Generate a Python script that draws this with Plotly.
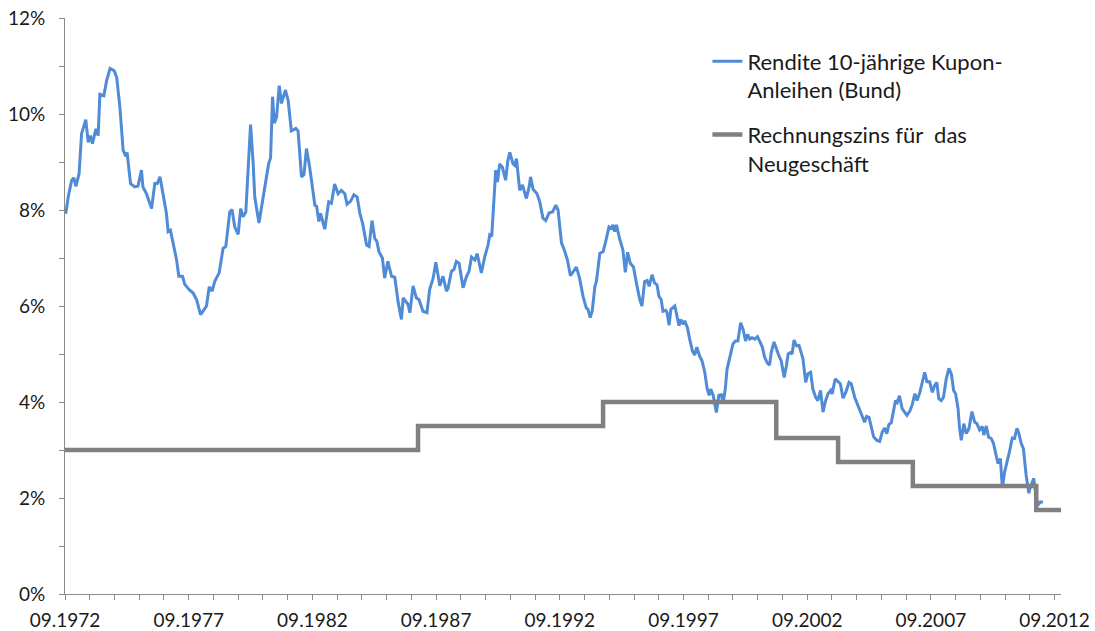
import plotly.graph_objects as go

# ---- data ----
bund_dates = [
    1972.70, 1972.80, 1972.94, 1973.03, 1973.11, 1973.24, 1973.34, 1973.51, 1973.61, 1973.70,
    1973.78, 1973.92, 1974.01, 1974.08, 1974.24, 1974.35, 1974.49, 1974.66, 1974.76, 1974.89,
    1975.02, 1975.13, 1975.18, 1975.32, 1975.49, 1975.62, 1975.76, 1975.82, 1975.96, 1976.17,
    1976.30, 1976.40, 1976.51, 1976.64, 1976.77, 1976.84, 1976.93, 1977.04, 1977.18, 1977.27,
    1977.42, 1977.51, 1977.69, 1977.85, 1977.99, 1978.15, 1978.32, 1978.39, 1978.50, 1978.62,
    1978.72, 1978.90, 1979.06, 1979.17, 1979.33, 1979.42, 1979.53, 1979.67, 1979.77, 1979.87,
    1979.98, 1980.17, 1980.27, 1980.34, 1980.51, 1980.67, 1980.78, 1980.90, 1980.98, 1981.06,
    1981.13, 1981.22, 1981.33, 1981.42, 1981.58, 1981.69, 1981.82, 1982.00, 1982.09, 1982.23,
    1982.33, 1982.43, 1982.56, 1982.77, 1982.84, 1982.93, 1983.00, 1983.17, 1983.33, 1983.44,
    1983.57, 1983.71, 1983.84, 1983.98, 1984.07, 1984.21, 1984.35, 1984.48, 1984.59, 1984.70,
    1984.86, 1984.96, 1985.08, 1985.19, 1985.28, 1985.36, 1985.50, 1985.59, 1985.72, 1985.87,
    1986.00, 1986.14, 1986.27, 1986.34, 1986.54, 1986.61, 1986.74, 1986.87, 1986.98, 1987.14,
    1987.30, 1987.41, 1987.55, 1987.66, 1987.82, 1987.95, 1988.09, 1988.15, 1988.29, 1988.39,
    1988.49, 1988.60, 1988.76, 1988.90, 1989.00, 1989.10, 1989.24, 1989.33, 1989.50, 1989.64,
    1989.77, 1989.84, 1989.92, 1990.00, 1990.08, 1990.15, 1990.24, 1990.35, 1990.48, 1990.57,
    1990.65, 1990.78, 1990.85, 1990.92, 1991.05, 1991.16, 1991.32, 1991.43, 1991.49, 1991.59,
    1991.75, 1991.86, 1991.99, 1992.10, 1992.24, 1992.38, 1992.51, 1992.60, 1992.74, 1992.83,
    1992.98, 1993.10, 1993.20, 1993.34, 1993.47, 1993.61, 1993.74, 1993.81, 1993.90, 1993.98,
    1994.09, 1994.15, 1994.29, 1994.42, 1994.51, 1994.66, 1994.76, 1994.82, 1994.89, 1994.96,
    1995.09, 1995.22, 1995.32, 1995.41, 1995.52, 1995.65, 1995.76, 1995.90, 1995.99, 1996.10,
    1996.20, 1996.28, 1996.40, 1996.50, 1996.60, 1996.68, 1996.77, 1996.84, 1996.95, 1997.01,
    1997.09, 1997.16, 1997.32, 1997.39, 1997.49, 1997.56, 1997.65, 1997.72, 1997.83, 1997.92,
    1998.03, 1998.12, 1998.21, 1998.32, 1998.42, 1998.53, 1998.63, 1998.71, 1998.77, 1998.87,
    1998.93, 1999.00, 1999.10, 1999.20, 1999.27, 1999.36, 1999.43, 1999.54, 1999.67, 1999.77,
    1999.87, 1999.98, 2000.08, 2000.18, 2000.26, 2000.35, 2000.44, 2000.55, 2000.66, 2000.75,
    2000.86, 2000.95, 2001.06, 2001.15, 2001.22, 2001.33, 2001.42, 2001.53, 2001.62, 2001.74,
    2001.83, 2001.90, 2001.99, 2002.06, 2002.14, 2002.24, 2002.34, 2002.44, 2002.50, 2002.61,
    2002.70, 2002.81, 2002.90, 2003.01, 2003.10, 2003.21, 2003.31, 2003.40, 2003.51, 2003.62,
    2003.68, 2003.80, 2003.92, 2004.01, 2004.12, 2004.23, 2004.36, 2004.45, 2004.59, 2004.72,
    2004.86, 2004.99, 2005.07, 2005.17, 2005.27, 2005.36, 2005.49, 2005.60, 2005.71, 2005.80,
    2005.89, 2005.97, 2006.07, 2006.16, 2006.24, 2006.31, 2006.40, 2006.51, 2006.60, 2006.70,
    2006.82, 2006.92, 2007.02, 2007.11, 2007.22, 2007.33, 2007.42, 2007.51, 2007.62, 2007.73,
    2007.82, 2007.91, 2007.99, 2008.09, 2008.18, 2008.29, 2008.40, 2008.50, 2008.59, 2008.67,
    2008.77, 2008.83, 2008.90, 2009.00, 2009.10, 2009.21, 2009.33, 2009.44, 2009.53, 2009.64,
    2009.75, 2009.81, 2009.91, 2010.00, 2010.11, 2010.20, 2010.32, 2010.38, 2010.48, 2010.56,
    2010.65, 2010.74, 2010.85, 2010.96, 2011.05, 2011.15, 2011.23, 2011.32, 2011.41, 2011.52,
    2011.63, 2011.70, 2011.83, 2011.91, 2012.00, 2012.10, 2012.20,
]

bund_yield = [
    7.92, 8.27, 8.62, 8.67, 8.49, 8.76, 9.59, 9.88, 9.41, 9.55,
    9.38, 9.69, 9.55, 10.41, 10.38, 10.69, 10.95, 10.90, 10.76, 10.14,
    9.24, 9.12, 9.20, 8.55, 8.48, 8.50, 8.83, 8.48, 8.34, 8.03,
    8.55, 8.55, 8.69, 8.27, 7.93, 7.55, 7.58, 7.31, 6.96, 6.62,
    6.62, 6.45, 6.34, 6.27, 6.13, 5.82, 5.93, 6.00, 6.40, 6.31,
    6.51, 6.69, 7.20, 7.24, 7.96, 8.01, 7.65, 7.49, 8.03, 7.86,
    7.96, 9.78, 9.03, 8.27, 7.73, 8.27, 8.55, 8.96, 9.09, 10.36,
    9.81, 9.93, 10.59, 10.22, 10.50, 10.28, 9.65, 9.70, 9.65, 8.69,
    8.74, 9.28, 8.89, 8.10, 8.08, 7.76, 7.93, 7.60, 8.17, 8.14,
    8.54, 8.34, 8.41, 8.34, 8.12, 8.18, 8.32, 8.27, 7.93, 7.72,
    7.27, 7.24, 7.78, 7.41, 7.34, 7.13, 7.00, 6.58, 6.93, 6.62,
    6.60, 6.07, 5.72, 6.17, 6.03, 5.86, 6.42, 6.17, 6.13, 5.89,
    5.86, 6.34, 6.58, 6.91, 6.42, 6.62, 6.31, 6.36, 6.72, 6.76,
    6.93, 6.89, 6.38, 6.62, 6.72, 7.02, 6.96, 7.09, 6.69, 7.03,
    7.27, 7.48, 7.45, 8.07, 8.83, 8.58, 8.96, 8.89, 8.62, 9.03,
    9.20, 8.96, 8.93, 9.07, 8.41, 8.52, 8.24, 8.48, 8.69, 8.43,
    8.34, 8.17, 7.83, 7.78, 7.94, 7.96, 8.10, 8.00, 7.31, 7.20,
    6.96, 6.63, 6.70, 6.81, 6.58, 6.20, 5.96, 5.93, 5.76, 5.89,
    6.41, 6.51, 7.10, 7.13, 7.31, 7.65, 7.62, 7.69, 7.55, 7.69,
    7.40, 7.17, 6.70, 7.12, 6.89, 6.81, 6.50, 6.14, 6.00, 6.51,
    6.53, 6.41, 6.65, 6.48, 6.44, 6.20, 6.13, 5.89, 5.91, 5.86,
    5.60, 5.93, 6.00, 5.83, 5.59, 5.72, 5.62, 5.69, 5.55, 5.31,
    5.07, 4.98, 5.14, 4.96, 4.86, 4.62, 4.27, 4.14, 4.27, 4.14,
    4.00, 3.78, 4.14, 4.15, 3.97, 4.27, 4.68, 4.93, 5.21, 5.27,
    5.27, 5.65, 5.51, 5.27, 5.41, 5.31, 5.34, 5.31, 5.36, 5.27,
    5.14, 4.93, 4.81, 4.77, 5.04, 5.25, 5.10, 4.96, 4.86, 4.51,
    4.75, 5.00, 5.03, 5.00, 5.29, 5.17, 5.18, 5.00, 4.90, 4.41,
    4.59, 4.62, 4.27, 4.10, 4.03, 4.24, 3.79, 4.00, 4.17, 4.24,
    4.17, 4.48, 4.41, 4.38, 4.08, 4.20, 4.41, 4.38, 4.10, 3.93,
    3.75, 3.58, 3.70, 3.68, 3.46, 3.27, 3.20, 3.18, 3.38, 3.46,
    3.34, 3.53, 3.57, 3.86, 4.03, 3.99, 4.13, 3.86, 3.79, 3.72,
    3.81, 3.95, 4.17, 4.03, 4.19, 4.45, 4.62, 4.42, 4.42, 4.20,
    4.34, 4.41, 4.07, 4.03, 4.10, 4.48, 4.70, 4.58, 4.24, 4.17,
    3.86, 3.45, 3.20, 3.55, 3.34, 3.45, 3.80, 3.58, 3.55, 3.42,
    3.49, 3.31, 3.50, 3.27, 3.24, 3.14, 2.82, 2.72, 2.82, 2.21,
    2.54, 2.72, 2.97, 3.25, 3.24, 3.45, 3.34, 3.14, 3.03, 2.48,
    2.10, 2.24, 2.41, 2.06, 1.85, 1.92, 1.91,
]

# Rechnungszins (step function): start dates of each level
rz_dates = [1972.67, 1986.94, 1994.42, 2001.42, 2003.92, 2006.94, 2011.93, 2012.94]
rz_rate = [3.00, 3.50, 4.00, 3.25, 2.75, 2.25, 1.75, 1.75]

tick_years = [1972.67, 1977.67, 1982.67, 1987.67, 1992.67, 1997.67, 2002.67, 2007.67, 2012.67]
tick_labels = ["09.1972", "09.1977", "09.1982", "09.1987", "09.1992",
               "09.1997", "09.2002", "09.2007", "09.2012"]
minor_years = [1972.67 + i for i in range(41)]

y_ticks = [0, 2, 4, 6, 8, 10, 12]
y_labels = ["0%", "2%", "4%", "6%", "8%", "10%", "12%"]

name_bund = "Rendite 10-jährige Kupon-<br>Anleihen (Bund)"
name_rz = "Rechnungszins für\u00a0 das<br>Neugeschäft"

FONT = "Lato, 'Open Sans', sans-serif"

fig = go.Figure()
fig.add_trace(go.Scatter(
    x=bund_dates, y=bund_yield, mode="lines", name=name_bund, legendgroup="a",
    line=dict(color="#4f8bd6", width=3),
))
fig.add_trace(go.Scatter(
    x=rz_dates, y=rz_rate, mode="lines", name=name_rz, legendgroup="b",
    line=dict(color="#808080", width=4.5, shape="hv"),
))

axis_col = "#8a8a8a"
fig.update_layout(
    width=1095, height=631,
    margin=dict(l=65, r=34, t=18, b=37),
    paper_bgcolor="white", plot_bgcolor="white",
    font=dict(family=FONT, size=19, color="#1a1a1a"),
    showlegend=True,
    legend=dict(
        x=0.645, y=0.961, xanchor="left", yanchor="top",
        bgcolor="rgba(0,0,0,0)", font=dict(family=FONT, size=22, color="#1a1a1a"),
        valign="top", tracegroupgap=13, itemwidth=30,
    ),
    xaxis=dict(
        range=[1972.67, 2012.93], showgrid=False, zeroline=False,
        showline=True, linecolor=axis_col, linewidth=1,
        tickmode="array", tickvals=tick_years, ticktext=tick_labels,
        ticks="outside", ticklen=5, tickcolor=axis_col,
        minor=dict(tickmode="array", tickvals=minor_years, ticks="outside",
                   ticklen=5, tickcolor=axis_col),
        ticklabelstandoff=4, ticklabeloverflow="allow", automargin=False,
    ),
    yaxis=dict(
        range=[0, 12], showgrid=False, zeroline=False,
        showline=True, linecolor=axis_col, linewidth=1,
        tickmode="array", tickvals=y_ticks, ticktext=y_labels,
        ticks="outside", ticklen=5, tickcolor=axis_col,
        minor=dict(dtick=1, ticks="outside", ticklen=5, tickcolor=axis_col),
        ticklabelstandoff=10, ticklabeloverflow="allow", automargin=False,
    ),
)

fig.write_html("out.html",
               config={"displayModeBar": False},
               post_script="document.body.style.margin='0';document.body.style.overflow='hidden';")
